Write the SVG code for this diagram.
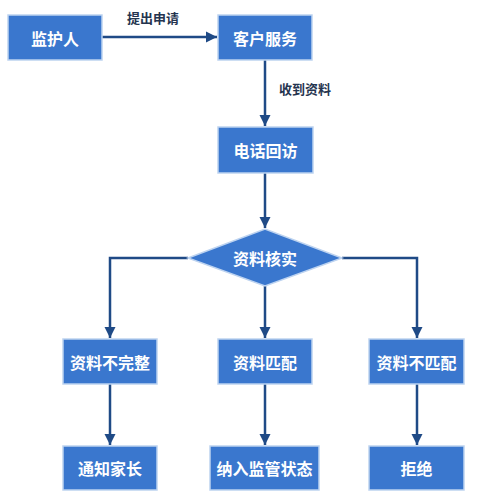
<svg xmlns="http://www.w3.org/2000/svg" width="489" height="502" viewBox="0 0 489 502">
<style>
.box{fill:#3A77CE;stroke:#BDD3F0;stroke-width:1.5}
.t{font-family:"Noto Sans CJK SC","Noto Sans",sans-serif;font-size:16px;font-weight:bold;fill:#fff;text-anchor:middle;dominant-baseline:central}
.lbl{font-family:"Noto Sans CJK SC","Noto Sans",sans-serif;font-size:13px;font-weight:bold;fill:#25344F;text-anchor:middle;dominant-baseline:central}
.c{fill:none;stroke:#1F4A86;stroke-width:2.5;marker-end:url(#ah)}
</style>
<defs>
<marker id="ah" viewBox="0 0 10 10" refX="10" refY="5" markerWidth="4.6" markerHeight="4.6" markerUnits="strokeWidth" orient="auto">
<path d="M0,0 L10,5 L0,10 z" fill="#1F4A86"/>
</marker>
</defs>
<rect width="489" height="502" fill="#fff"/>
<g id="connectors">
<path class="c" d="M102,37 H217"/>
<path class="c" d="M265,60 V126"/>
<path class="c" d="M265,173 V228"/>
<path class="c" d="M188,258 H110 V338"/>
<path class="c" d="M265,286 V338"/>
<path class="c" d="M342,258 H417 V338"/>
<path class="c" d="M110,384 V445"/>
<path class="c" d="M265,384 V445"/>
<path class="c" d="M417,384 V445"/>
<text class="lbl" x="153" y="17">提出申请</text>
<text class="lbl" x="305" y="88">收到资料</text>
</g>
<g id="n1"><rect class="box" x="8" y="15" width="94" height="45"/><text class="t" x="55" y="37.5">监护人</text></g>
<g id="n2"><rect class="box" x="218" y="15" width="94" height="45"/><text class="t" x="265" y="37.5">客户服务</text></g>
<g id="n3"><rect class="box" x="218" y="127" width="95" height="46"/><text class="t" x="265.5" y="150">电话回访</text></g>
<g id="n4"><polygon class="box" points="188,258 265,229 342,258 265,286"/><text class="t" x="265" y="257.5">资料核实</text></g>
<g id="n5"><rect class="box" x="63" y="339" width="94" height="45"/><text class="t" x="110" y="361.5">资料不完整</text></g>
<g id="n6"><rect class="box" x="218" y="339" width="94" height="45"/><text class="t" x="265" y="361.5">资料匹配</text></g>
<g id="n7"><rect class="box" x="369" y="339" width="95" height="45"/><text class="t" x="416.5" y="361.5">资料不匹配</text></g>
<g id="n8"><rect class="box" x="63" y="446" width="94" height="44"/><text class="t" x="110" y="468">通知家长</text></g>
<g id="n9"><rect class="box" x="210" y="446" width="109" height="44"/><text class="t" x="264.5" y="468">纳入监管状态</text></g>
<g id="n10"><rect class="box" x="369" y="446" width="95" height="44"/><text class="t" x="416.5" y="468">拒绝</text></g>
</svg>
